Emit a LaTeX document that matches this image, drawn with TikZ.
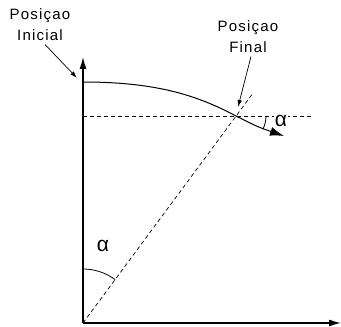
\documentclass[tikz,border=0pt]{standalone}
\usepackage{fontspec}
\setmainfont{Liberation Sans}
\usetikzlibrary{positioning, arrows.meta}

\begin{document}
\begin{tikzpicture}[x=1pt, y=1pt,
    axis/.style={line width=1.4pt, -{Latex[length=12pt, width=7pt]}},
    guide/.style={line width=0.7pt, dash pattern=on 4pt off 3pt},
    pointer/.style={line width=0.7pt, -{Latex[length=7pt, width=4.5pt]}},
    label/.style={align=center, font=\fontsize{15}{21}\selectfont\addfontfeatures{LetterSpace=8}},
    greek/.style={font=\fontsize{21}{22}\selectfont, inner sep=0.5pt}]
    \useasboundingbox (0,0) rectangle (341,327);

    % Points
    \coordinate (O) at (83,4);
    \coordinate (ytop) at (83,270);
    \coordinate (xend) at (341,4);
    \coordinate (start) at (83,245);
    \coordinate (P) at (236,211);
    \coordinate (tip) at (284,191);
    \coordinate (hstart) at (83,211);
    \coordinate (hend) at (312,211);
    \coordinate (dend) at (252,232.5);

    % Axes
    \draw[axis] (O) -- (ytop);
    \draw[axis] (O) -- (xend);

    % Dashed guides
    \draw[guide] (hstart) -- (hend);
    \draw[guide] (O) -- (dend);

    % Path of the point
    \draw[line width=1pt, -{Latex[length=14pt, width=9pt]}] (start) .. controls (160,245) and (200,230) .. (P) .. controls (258,200) .. (tip);

    % Angles
    \draw[line width=0.8pt] (O) ++(0,54) arc[start angle=90, end angle=53.5, radius=54];
    \draw[line width=0.8pt] (P) ++(30,0) arc[start angle=0, end angle=-26, radius=30];
    \node (a1) [greek] at (103,81) {α};
    \node (a2) [greek, fill=white] at (281,206) {α};

    % Labels
    \node (ini) [label] at (40,302) {Posiçao\\Inicial};
    \node (fin) [label] at (248,290) {Posiçao\\Final};
    \coordinate (iniend) at (77,249);
    \coordinate (finend) at (238,220);
    \draw[pointer] ([xshift=5pt]ini.south) -- (iniend);
    \draw[pointer] ([xshift=3pt]fin.south) -- (finend);
\end{tikzpicture}
\end{document}
